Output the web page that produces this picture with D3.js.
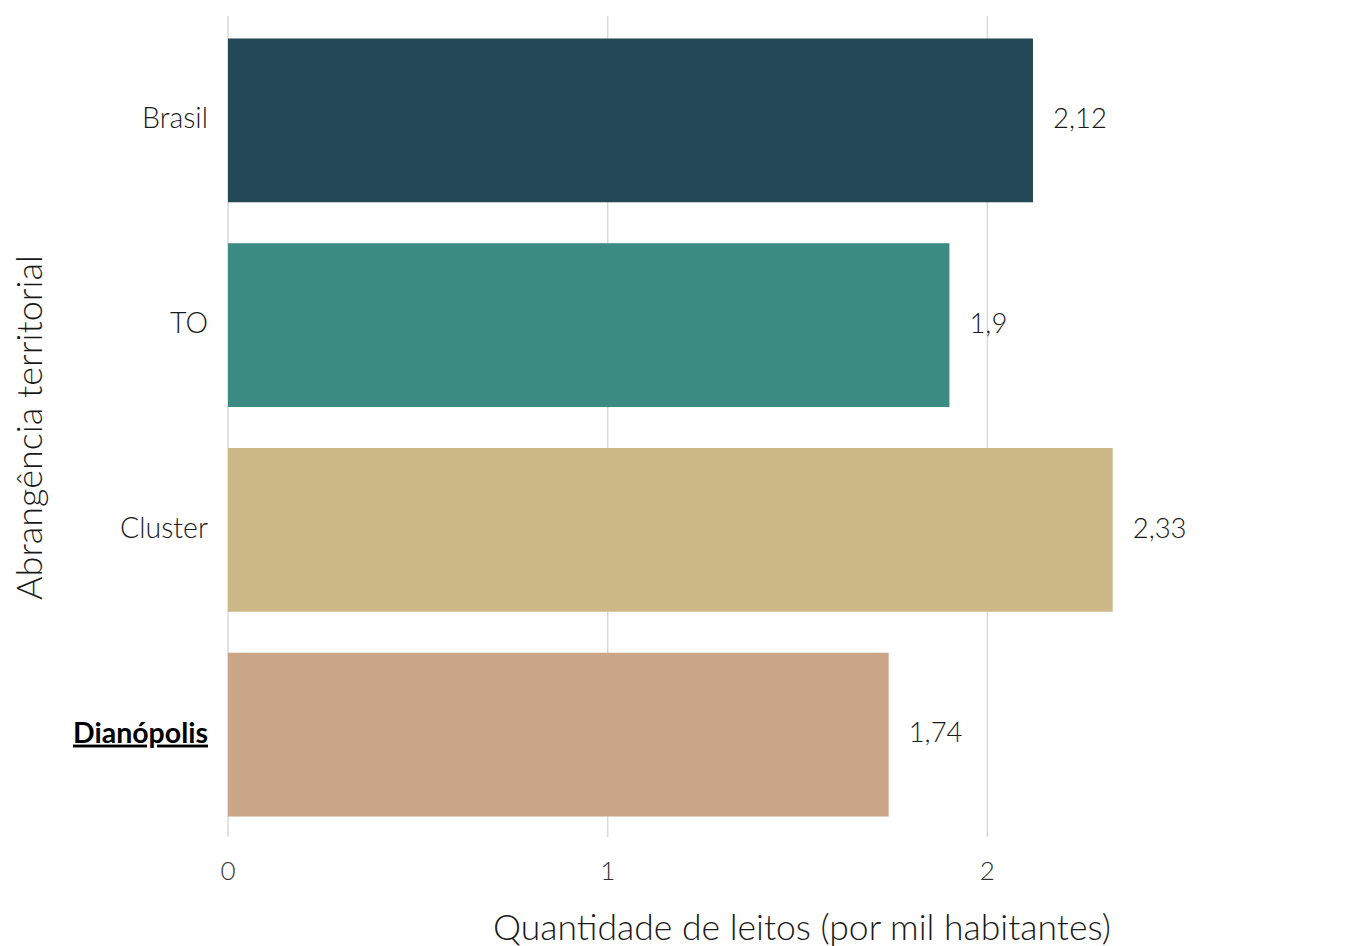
<!DOCTYPE html>
<html>
<head>
<meta charset="utf-8">
<script src="https://cdn.jsdelivr.net/npm/d3@7"></script>
<style>
  body { margin: 0; background: #fff; }
  svg text { font-family: Lato, sans-serif; font-weight: 300; fill: #1a1a1a; }
</style>
</head>
<body>
<svg id="grafico" width="1355" height="946"></svg>
<script>
// dados
const categorias = ["Brasil", "TO", "Cluster", "Dianópolis"];
const valores = [2.12, 1.9, 2.33, 1.74];
const rotulos = ["2,12", "1,9", "2,33", "1,74"];
const cores = ["#234957", "#3c8b82", "#cdb987", "#cba689"];
const ticksX = [0, 1, 2];
const destaque = "Dianópolis";

const margem = {top: 18, right: 0, bottom: 109, left: 228};
const largura = 1355, altura = 946;

const svg = d3.select("#grafico");

const x = d3.scaleLinear().domain([0, 1]).range([margem.left, margem.left + 379.7]);
const y = d3.scaleBand().domain(categorias)
  .range([margem.top, altura - margem.bottom])
  .paddingInner(0.2).paddingOuter(0.1);

// linhas de grade
svg.append("g").selectAll("line")
  .data(ticksX)
  .enter().append("line")
    .attr("x1", d => x(d)).attr("x2", d => x(d))
    .attr("y1", margem.top - 2).attr("y2", altura - margem.bottom)
    .attr("stroke", "#d9d9d9").attr("stroke-width", 1.5);

// barras
svg.append("g").selectAll("rect")
  .data(categorias)
  .enter().append("rect")
    .attr("x", x(0))
    .attr("y", d => y(d))
    .attr("width", (d, i) => x(valores[i]) - x(0))
    .attr("height", y.bandwidth())
    .attr("fill", (d, i) => cores[i]);

// rotulos de valor
svg.append("g").selectAll("text")
  .data(categorias)
  .enter().append("text")
    .attr("x", (d, i) => x(valores[i]) + 20)
    .attr("y", d => y(d) + y.bandwidth() / 2)
    .attr("dy", "0.28em")
    .style("font-size", "27.5px")
    .text((d, i) => rotulos[i]);

// rotulos do eixo y
svg.append("g").selectAll("text")
  .data(categorias)
  .enter().append("text")
    .attr("x", margem.left - 20)
    .attr("y", d => y(d) + y.bandwidth() / 2)
    .attr("dy", "0.28em")
    .attr("text-anchor", "end")
    .style("font-size", "28.5px")
    .style("font-weight", d => d === destaque ? 700 : 300)
    .style("fill", d => d === destaque ? "#000" : "#1a1a1a")
    .style("text-decoration", d => d === destaque ? "underline" : "none")
    .text(d => d);

// ticks eixo x
svg.append("g").selectAll("text")
  .data(ticksX)
  .enter().append("text")
    .attr("x", d => x(d))
    .attr("y", 880)
    .attr("text-anchor", "middle")
    .style("font-size", "26px")
    .style("fill", "#333")
    .text(d => d);

// titulos dos eixos
svg.append("text")
  .attr("x", 802)
  .attr("y", 940)
  .attr("text-anchor", "middle")
  .style("font-size", "35.5px")
  .text("Quantidade de leitos (por mil habitantes)");

svg.append("text")
  .attr("transform", "translate(42," + (y.range()[0] + y.range()[1]) / 2 + ") rotate(-90)")
  .attr("text-anchor", "middle")
  .style("font-size", "36px")
  .text("Abrangência territorial");
</script>
</body>
</html>
